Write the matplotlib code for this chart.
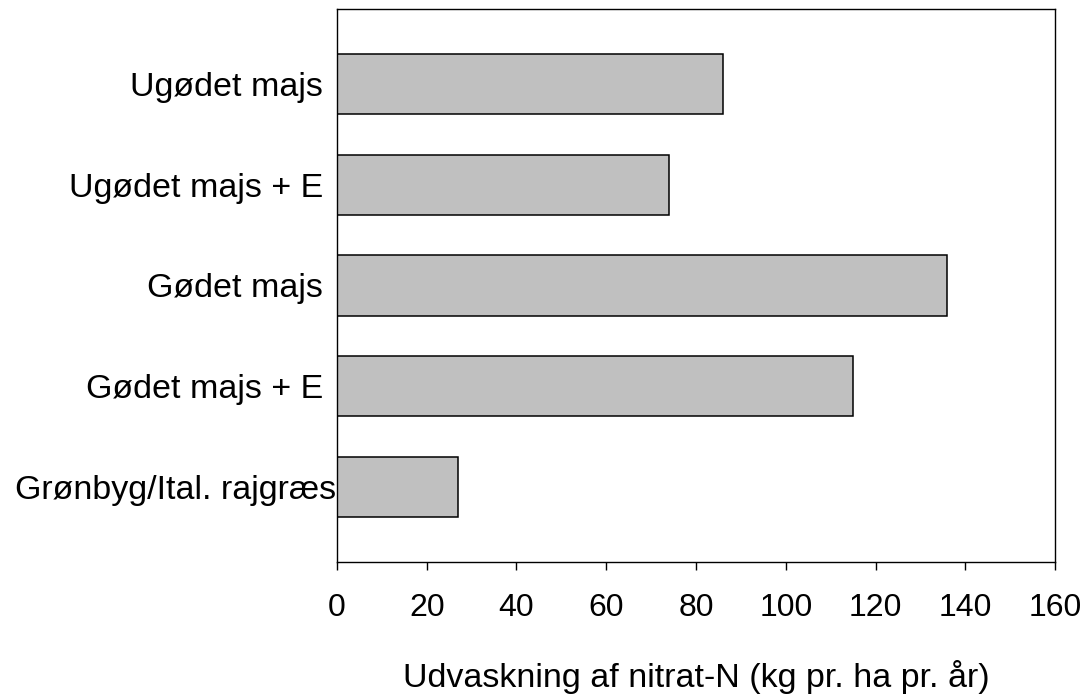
import matplotlib
matplotlib.use("Agg")
import matplotlib.pyplot as plt
from matplotlib.transforms import ScaledTranslation

# Data
categories = ["Ugødet majs", "Ugødet majs + E", "Gødet majs", "Gødet majs + E", "Grønbyg/Ital. rajgræs"]
values = [86, 74, 136, 115, 27]
x_ticks = [0, 20, 40, 60, 80, 100, 120, 140, 160]

plt.rcParams['font.family'] = ['Liberation Sans', 'DejaVu Sans']

fig = plt.figure(figsize=(10.88, 6.96), dpi=100)
ax = fig.add_axes([0.3097, 0.1925, 0.66, 0.7946])

pos = list(range(len(categories)))
ax.barh(pos, values, height=0.6, color="#C0C0C0", edgecolor="black", linewidth=1.1, zorder=2)

ax.set_xlim(0, 160)
ax.set_ylim(len(categories) - 1 + 0.745, -0.745)
ax.set_xticks(x_ticks)
ax.set_xticklabels([str(t) for t in x_ticks], fontsize=23)
ax.set_yticks(pos)
ax.set_yticklabels(categories, fontsize=24.5)

ax.tick_params(axis="x", direction="out", length=5.8, width=1.0, pad=16.5)
ax.tick_params(axis="y", length=0, pad=10)

for sp in ax.spines.values():
    sp.set_linewidth(1.0)
    sp.set_color("black")

# the last label sits closer to the axis in the original
lab = ax.get_yticklabels()[-1]
lab.set_transform(lab.get_transform() + ScaledTranslation(0.13, 0, fig.dpi_scale_trans))

ax.set_xlabel("Udvaskning af nitrat-N (kg pr. ha pr. år)", fontsize=24.5, labelpad=27)

fig.savefig("out.png", dpi=100)
